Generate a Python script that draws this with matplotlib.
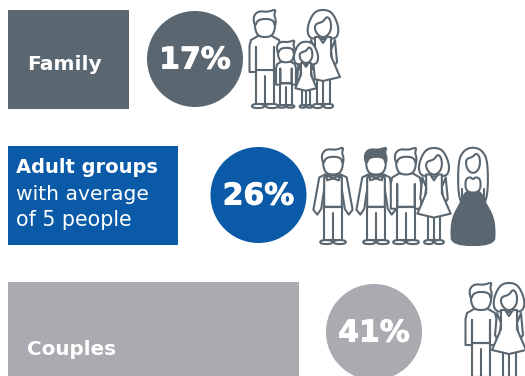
import matplotlib
matplotlib.use('Agg')
import matplotlib.pyplot as plt
import matplotlib.patheffects as pe
from matplotlib.patches import Circle, Polygon, Rectangle

categories = ['Family', 'Adult groups', 'Couples']
shares = [17, 26, 41]
box_widths = [121, 170, 291]
colors = ['#5a6670', '#0a5aa8', '#aaabb0']

INK = '#5a6670'
LW = 1.5

fig = plt.figure(figsize=(5.25, 3.76), dpi=100)
ax = fig.add_axes([0, 0, 1, 1])
ax.set_xlim(0, 525)
ax.set_ylim(376, 0)
ax.axis('off')
plt.rcParams['font.family'] = ['DejaVu Sans']


def soften(pts, closed, passes=2):
    # corner cutting, turns the rough outlines into rounded ones
    for _ in range(passes):
        out = [] if closed else [pts[0]]
        n = len(pts)
        for i in range(n if closed else n - 1):
            a, b = pts[i], pts[(i + 1) % n]
            out.append((0.75 * a[0] + 0.25 * b[0], 0.75 * a[1] + 0.25 * b[1]))
            out.append((0.25 * a[0] + 0.75 * b[0], 0.25 * a[1] + 0.75 * b[1]))
        if not closed:
            out.append(pts[-1])
        pts = out
    return pts


def line(pts, cx, top, s, z, closed=False, fill='none', smooth=False):
    if smooth:
        pts = soften(pts, closed)
    xy = [(cx + x * s, top + y * s) for x, y in pts]
    ax.add_patch(Polygon(xy, closed=closed, fc=fill, ec=INK, lw=LW, zorder=z,
                         joinstyle='round', capstyle='round'))


def feet(cx, top, s, z, half=13):
    for x0, x1 in ((-half, -0.8), (0.8, half)):
        line([(x0, 94), (x1, 94), (x1, 98), (x0, 98)], cx, top, s, z, closed=True, fill='white', smooth=True)


def man_head(cx, top, s, z, dark, hs=1.0):
    def grow(pts):
        return [(x * hs, 27 + (y - 27) * hs) for x, y in pts]
    face = [(-10, 10), (-10, 20), (-6, 27), (6, 27), (10, 20), (10, 10), (0, 6)]
    line(grow(face), cx, top, s, z, closed=True, fill='white', smooth=True)
    hair = [(-10, 17), (-12, 7), (-7, 1), (3, 2), (11, -1), (9, 5), (11, 10), (10, 17), (8, 9), (-7, 9)]
    line(grow(hair), cx, top, s, z, closed=True, fill=INK if dark else 'white', smooth=True)


def man(cx, top, s=1.0, z=3, dark_hair=False, suit=False, waist=True, hs=1.0):
    # legs first, the torso and arms go over them
    line([(-9, 60), (-9, 94), (9, 94), (9, 60)], cx, top, s, z, closed=True, fill='white')
    line([(0, 66), (0, 94)], cx, top, s, z)
    feet(cx, top, s, z)
    if suit:
        # arms held away from the body
        line([(-8, 27), (-14, 30), (-20, 63), (-16, 68), (-12, 62), (-9, 42)], cx, top, s, z, closed=True, fill='white')
        line([(8, 27), (14, 30), (20, 63), (16, 68), (12, 62), (9, 42)], cx, top, s, z, closed=True, fill='white')
        line([(-9, 30), (-9, 60), (9, 60), (9, 30), (0, 28)], cx, top, s, z, closed=True, fill='white')
        line([(-7, 27), (0, 31), (7, 27), (6, 33), (0, 31), (-6, 33)], cx, top, s, z, closed=True)
    else:
        line([(-15.5, 62), (-15.5, 36), (-14, 30), (-7, 26), (7, 26), (14, 30), (15.5, 36), (15.5, 62), (9, 62),
              (9, 37), (9, 60), (-9, 60), (-9, 37), (-9, 62)], cx, top, s, z, closed=True, fill='white')
    if waist:
        line([(-9, 60), (9, 60)], cx, top, s, z)
    man_head(cx, top, s, z, dark_hair, hs)


def woman(cx, top, s=1.0, z=4, hs=1.0):
    def grow(pts):
        return [(x * hs, 27 + (y - 27) * hs) for x, y in pts]
    # legs and feet
    line([(-6.5, 68), (-6.5, 94), (6.5, 94), (6.5, 68)], cx, top, s, z, closed=True, fill='white')
    line([(0, 70), (0, 94)], cx, top, s, z)
    feet(cx, top, s, z, half=10)
    # hair behind the head
    line(grow([(-5, 29), (-14, 28), (-16, 18), (-11, 5), (-5, 0), (5, 0), (11, 5), (16, 18), (14, 28), (5, 29)]),
         cx, top, s, z, closed=True, fill='white', smooth=True)
    # dress with the arms alongside
    line([(-12, 30), (-14, 52), (-10, 58), (-8, 40)], cx, top, s, z, closed=True, fill='white')
    line([(12, 30), (14, 52), (10, 58), (8, 40)], cx, top, s, z, closed=True, fill='white')
    line([(-8, 27), (-8, 46), (-17, 67), (0, 71), (17, 67), (8, 46), (8, 27), (4, 27), (0, 33), (-4, 27)],
         cx, top, s, z, closed=True, fill='white')
    # face
    line(grow([(-8, 14), (-8, 21), (-3, 27), (3, 27), (8, 21), (8, 11), (4, 6), (0, 12)]),
         cx, top, s, z, closed=True, fill='white', smooth=True)


def bride(cx, top, s=1.0, z=3):
    # long hair down the back
    line([(-9, 60), (-15, 50), (-15, 14), (-9, 3), (0, 0), (9, 3), (15, 14), (15, 50), (9, 60)],
         cx, top, s, z, closed=True, fill='white', smooth=True)
    line([(-7, 12), (-7, 20), (-3, 26), (3, 26), (7, 20), (7, 10), (3, 6), (0, 10)],
         cx, top, s, z, closed=True, fill='white', smooth=True)
    skirt = [(-7, 44), (-12, 56), (-20, 70), (-22, 84), (-21, 99), (21, 99), (22, 84), (20, 70), (12, 56), (7, 44)]
    line(skirt, cx, top, s, z, closed=True, fill=INK, smooth=True)
    line([(-8, 33), (-3, 30), (0, 33), (3, 30), (8, 33), (7, 46), (-7, 46)], cx, top, s, z, closed=True, fill='white', smooth=True)
    line([(-11, 42), (-11, 58)], cx, top, s, z + 1)
    line([(11, 42), (11, 58)], cx, top, s, z + 1)


# boxes, circles and the share labels
heavy = [pe.withStroke(linewidth=0.7, foreground='white')]
rows = [(10, 99, 195, 59), (146, 99, 258.5, 195), (282, 99, 374, 332)]
for width, color, share, (y0, box_h, cx, cy) in zip(box_widths, colors, shares, rows):
    ax.add_patch(Rectangle((8, y0), width, box_h, fc=color, ec='none'))
    ax.add_patch(Circle((cx, cy), 48, fc=color, ec='none'))
    ax.text(cx, cy + 1, f'{share}%', color='white', ha='center', va='center',
            fontsize=21.5, fontweight='bold', path_effects=heavy)

ax.text(27, 70, categories[0], color='white', fontsize=14.6, fontweight='bold', va='baseline')
ax.text(16, 173, categories[1], color='white', fontsize=14, fontweight='bold', va='baseline')
ax.text(16, 200, 'with average', color='white', fontsize=14.6, va='baseline')
ax.text(16, 226, 'of 5 people', color='white', fontsize=14.8, va='baseline')
ax.text(27, 355, categories[2], color='white', fontsize=14.4, fontweight='bold', va='baseline')

# family group
man(265, 10, waist=False)
woman(323, 10)
man(286, 45, s=0.64, z=5, hs=1.25)
woman(306, 46, s=0.63, z=5, hs=1.25)

# adult group
man(333, 148, s=0.98, suit=True)
man(376, 148, s=0.98, dark_hair=True, suit=True)
man(406, 148, s=0.98, z=3)
woman(434, 148, s=0.98, z=4)
bride(473, 147, s=0.99)

# couple
man(481, 283)
woman(509, 283)

fig.savefig('out.png', dpi=100)
